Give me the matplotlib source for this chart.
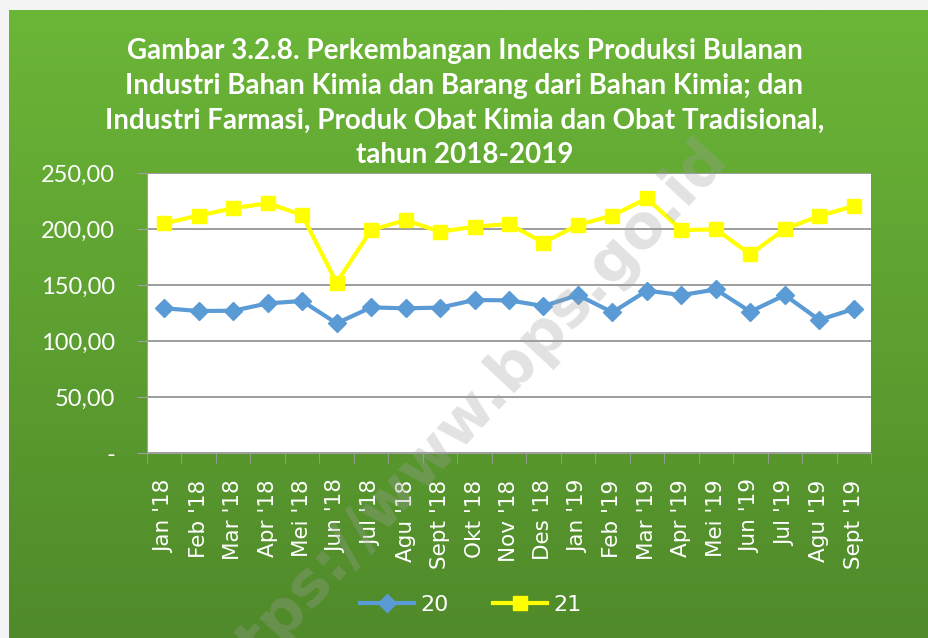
import numpy as np
import matplotlib.pyplot as plt

months = ["Jan '18", "Feb '18", "Mar '18", "Apr '18", "Mei '18", "Jun '18", "Jul '18",
          "Agu '18", "Sept '18", "Okt '18", "Nov '18", "Des '18", "Jan '19", "Feb '19",
          "Mar '19", "Apr '19", "Mei '19", "Jun '19", "Jul '19", "Agu '19", "Sept '19"]
kbli20 = [129.2, 126.8, 127.0, 133.6, 135.7, 115.8, 130.0, 129.2, 129.8, 136.6, 136.3,
          131.2, 141.0, 125.6, 145.0, 141.0, 146.0, 126.2, 141.0, 118.8, 128.6]
kbli21 = [205.0, 212.0, 218.5, 223.0, 212.5, 152.0, 199.0, 208.0, 197.6, 202.0, 204.5,
          187.8, 203.6, 212.0, 227.4, 199.0, 199.7, 177.4, 200.0, 211.6, 220.5]
yticks = [0, 50, 100, 150, 200, 250]
ylabels = ["-", "50,00", "100,00", "150,00", "200,00", "250,00"]

title = ("Gambar 3.2.8. Perkembangan Indeks Produksi Bulanan\n"
         "Industri Bahan Kimia dan Barang dari Bahan Kimia; dan\n"
         "Industri Farmasi, Produk Obat Kimia dan Obat Tradisional,\n"
         "tahun 2018-2019")

fig = plt.figure(figsize=(9.29, 6.38), dpi=100)
fig.patch.set_facecolor("#f4f4f4")

# green gradient panel
bg = fig.add_axes([9 / 929, 0, 1 - 9 / 929, 628 / 638])
top = np.array([107, 182, 55]) / 255
bot = np.array([80, 138, 42]) / 255
t = np.linspace(0, 1, 256)[:, None]
grad = top[None, :] * (1 - t) + bot[None, :] * t
bg.imshow(grad[:, None, :], aspect="auto", extent=[0, 1, 0, 1])
bg.set_axis_off()

ax = fig.add_axes([147 / 929, 1 - 453 / 638, (871 - 147) / 929, (453 - 173) / 638])
ax.set_facecolor("white")
x = np.arange(len(months))
ax.plot(x, kbli20, color="#5b9bd5", lw=3, marker="D", ms=9, label="20", zorder=3)
ax.plot(x, kbli21, color="#ffff00", lw=3, marker="s", ms=10, label="21", zorder=3)

ax.set_xlim(-0.5, len(months) - 0.5)
ax.set_ylim(0, 250)
ax.set_yticks(yticks)
ax.set_yticklabels(ylabels, fontsize=17, color="white", family="Lato")
ax.grid(axis="y", color="#8c8c8c", lw=1.2)
ax.set_axisbelow(True)
ax.set_xticks(x)
ax.set_xticklabels(months, rotation=90, fontsize=15.5, color="white")
ax.set_xticks(np.arange(-0.5, len(months)), minor=True)
ax.tick_params(axis="x", which="major", length=0, pad=19)
ax.tick_params(axis="x", which="minor", length=7, color="#a0a0a0")
ax.tick_params(axis="y", length=7, color="#a0a0a0", pad=16)
for s in ["top", "right"]:
    ax.spines[s].set_visible(False)
ax.spines["left"].set_color("#a0a0a0")
ax.spines["bottom"].set_color("#a0a0a0")

fig.text(0.5, 1 - 103 / 638, title, ha="center", va="center", fontsize=20, fontweight="bold",
         color="white", family="Lato", linespacing=1.42)

leg = ax.legend(loc="center", bbox_to_anchor=(471 / 929, 1 - 605 / 638),
                bbox_transform=fig.transFigure, ncol=2, frameon=False,
                fontsize=16, handlelength=2.4, handletextpad=0.3, columnspacing=2.0)
for txt in leg.get_texts():
    txt.set_color("white")

fig.text(458 / 929, 1 - 425 / 638, "https://www.bps.go.id", rotation=47, ha="center",
         va="center", fontsize=44, fontweight="bold", color="#a0a0a0", alpha=0.3, zorder=10)

fig.savefig("out.png", dpi=100, facecolor=fig.get_facecolor())
